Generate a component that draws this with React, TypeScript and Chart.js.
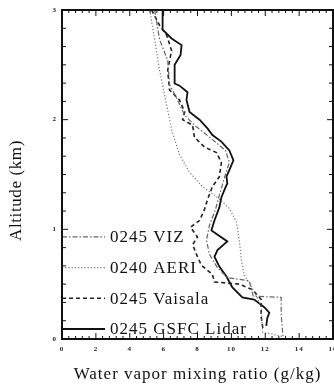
import React, { useEffect, useRef } from "react";
import { Chart, registerables } from "chart.js";

Chart.register(...registerables);

const seriesLabels = ["0245 VIZ", "0240 AERI", "0245 Vaisala", "0245 GSFC Lidar"];

const vizRatio = [5.47, 5.76, 6.24, 6.35, 6.82, 7.24, 7.82, 8.71, 9.65, 9.88, 9.59, 9.29, 9.06, 8.71, 8.53, 8.71, 9.18, 9.76, 11.06, 11.29, 12.94, 12.94, 13.06];
const vizAlt = [3.0, 2.73, 2.54, 2.32, 2.18, 2.04, 1.95, 1.84, 1.72, 1.61, 1.47, 1.31, 1.18, 1.04, 0.9, 0.77, 0.65, 0.56, 0.53, 0.39, 0.38, 0.22, 0.0];

const aeriRatio = [5.18, 5.47, 5.76, 6.12, 6.47, 6.94, 7.53, 8.29, 9.18, 9.88, 10.29, 10.47, 10.59, 10.76, 11.06, 11.35, 11.76, 11.8, 11.85, 12.3, 13.06];
const aeriAlt = [3.0, 2.73, 2.45, 2.18, 1.91, 1.68, 1.52, 1.39, 1.29, 1.19, 1.07, 0.9, 0.72, 0.58, 0.51, 0.43, 0.3, 0.17, 0.06, 0.05, 0.02];

const vaisalaRatio = [5.29, 5.76, 6.18, 6.47, 6.24, 6.35, 6.94, 7.24, 7.12, 7.71, 7.82, 8.41, 9.12, 9.41, 9.29, 8.88, 8.59, 8.41, 8.12, 7.59, 8.0, 7.71, 8.0, 8.24, 8.88, 9.0, 10.47, 11.24, 11.76, 11.76, 11.88];
const vaisalaAlt = [3.0, 2.86, 2.77, 2.63, 2.45, 2.27, 2.18, 2.07, 2.0, 1.95, 1.84, 1.75, 1.7, 1.61, 1.48, 1.39, 1.27, 1.18, 1.08, 1.02, 0.93, 0.86, 0.75, 0.67, 0.59, 0.52, 0.5, 0.45, 0.36, 0.2, 0.08];

const lidarRatio = [5.94, 5.94, 6.47, 7.06, 7.0, 6.65, 6.65, 6.94, 7.41, 7.35, 7.53, 8.12, 8.59, 8.88, 9.41, 9.88, 10.12, 9.88, 9.71, 9.76, 9.59, 9.41, 9.29, 9.0, 8.82, 9.76, 9.18, 9.0, 9.29, 9.71, 10.06, 10.65, 11.35, 11.94, 12.24, 12.12, 12.06];
const lidarAlt = [3.0, 2.82, 2.74, 2.68, 2.59, 2.5, 2.33, 2.31, 2.25, 2.18, 2.07, 2.0, 1.92, 1.86, 1.8, 1.72, 1.63, 1.54, 1.48, 1.42, 1.36, 1.29, 1.2, 1.08, 0.99, 0.89, 0.81, 0.75, 0.66, 0.57, 0.47, 0.38, 0.36, 0.29, 0.24, 0.19, 0.12];

const xTickValues = [0, 2, 4, 6, 8, 10, 12, 14, 16];
const yTickValues = [0, 1, 2, 3];
const xTitle = "Water vapor mixing ratio (g/kg)";
const yTitle = "Altitude (km)";

const SERIF = "'Liberation Serif', 'DejaVu Serif', serif";

function pts(xs: number[], ys: number[]) {
  return xs.map((v, i) => ({ x: v, y: ys[i] }));
}

const spacingPlugin = {
  id: "letterSpacing",
  beforeDraw(chart: any) {
    chart.ctx.letterSpacing = "1px";
  },
};

const frameTicksPlugin = {
  id: "frameTicks",
  afterDraw(chart: any) {
    const { ctx, chartArea, scales } = chart;
    const { left, right, top, bottom } = chartArea;
    const xs = scales.x;
    const ys = scales.y;
    ctx.save();
    ctx.strokeStyle = "#111";
    ctx.lineWidth = 2;
    ctx.strokeRect(left, top, right - left, bottom - top);
    ctx.lineWidth = 1;
    ctx.beginPath();
    const xMax = xTickValues[xTickValues.length - 1];
    const xStep = xTickValues[1] - xTickValues[0];
    const xMinorPer = 5;
    const nx = Math.round((xMax / xStep) * xMinorPer);
    for (let i = 0; i <= nx; i++) {
      const v = (i * xStep) / xMinorPer;
      const px = xs.getPixelForValue(v);
      const len = i % xMinorPer === 0 ? 6 : 3;
      ctx.moveTo(px, bottom);
      ctx.lineTo(px, bottom - len);
      ctx.moveTo(px, top);
      ctx.lineTo(px, top + len);
    }
    const yMax = yTickValues[yTickValues.length - 1];
    const yMinorPer = 6;
    const ny = yMax * yMinorPer;
    for (let i = 0; i <= ny; i++) {
      const v = i / yMinorPer;
      const py = ys.getPixelForValue(v);
      const len = i % yMinorPer === 0 ? 6 : 4;
      ctx.moveTo(left, py);
      ctx.lineTo(left + len, py);
      ctx.moveTo(right, py);
      ctx.lineTo(right - len, py);
    }
    ctx.stroke();

    ctx.save();
    ctx.translate(17, (top + bottom) / 2 + 16);
    ctx.rotate(-Math.PI / 2);
    ctx.letterSpacing = "0.6px";
    ctx.font = `17px ${SERIF}`;
    ctx.fillStyle = "#111";
    ctx.textAlign = "center";
    ctx.textBaseline = "middle";
    ctx.fillText(yTitle, 0, 0);
    ctx.restore();
    ctx.restore();
  },
};

const legendPlugin = {
  id: "inlineLegend",
  afterDatasetsDraw(chart: any) {
    const { ctx, chartArea } = chart;
    const { left, bottom } = chartArea;
    const n = chart.data.datasets.length;
    ctx.save();
    chart.data.datasets.forEach((ds: any, i: number) => {
      const y = bottom - 10 - (n - 1 - i) * 30.7;
      ctx.strokeStyle = ds.borderColor;
      ctx.lineWidth = ds.borderWidth;
      ctx.setLineDash(ds.borderDash || []);
      ctx.beginPath();
      ctx.moveTo(left, y);
      ctx.lineTo(left + 43, y);
      ctx.stroke();
      ctx.setLineDash([]);
      ctx.letterSpacing = "1px";
      ctx.font = `17px ${SERIF}`;
      ctx.fillStyle = "#111";
      ctx.textAlign = "left";
      ctx.textBaseline = "middle";
      ctx.fillText(ds.label, left + 48, y + 1);
    });
    ctx.restore();
  },
};

export default function App() {
  const ref = useRef<HTMLCanvasElement | null>(null);
  useEffect(() => {
    document.body.style.margin = "0";
    const canvas = ref.current;
    if (!canvas) return;
    const chart = new Chart(canvas, {
      type: "scatter",
      data: {
        datasets: [
          {
            label: seriesLabels[0],
            data: pts(vizRatio, vizAlt),
            showLine: true,
            borderColor: "#666",
            borderWidth: 1.2,
            borderDash: [5, 2, 1.5, 2],
            pointRadius: 0,
          },
          {
            label: seriesLabels[1],
            data: pts(aeriRatio, aeriAlt),
            showLine: true,
            borderColor: "#777",
            borderWidth: 1.2,
            borderDash: [1.2, 2],
            pointRadius: 0,
          },
          {
            label: seriesLabels[2],
            data: pts(vaisalaRatio, vaisalaAlt),
            showLine: true,
            borderColor: "#222",
            borderWidth: 1.6,
            borderDash: [4, 3],
            pointRadius: 0,
          },
          {
            label: seriesLabels[3],
            data: pts(lidarRatio, lidarAlt),
            showLine: true,
            borderColor: "#111",
            borderWidth: 1.8,
            pointRadius: 0,
          },
        ],
      },
      options: {
        responsive: false,
        animation: false,
        events: [],
        layout: { padding: { left: 0, right: 1, top: 10, bottom: 0 } },
        plugins: {
          legend: { display: false },
          tooltip: { enabled: false },
        },
        scales: {
          x: {
            type: "linear",
            min: 0,
            max: 16,
            grid: { display: false, drawTicks: false, tickLength: 0 },
            border: { display: false },
            ticks: {
              stepSize: 2,
              autoSkip: false,
              maxRotation: 0,
              padding: 6,
              color: "#222",
              font: { family: SERIF, size: 7, weight: "bold" },
              callback: (v: any) => (xTickValues.includes(Number(v)) ? String(v) : ""),
            },
            title: {
              display: true,
              text: xTitle,
              color: "#111",
              font: { family: SERIF, size: 17 },
              padding: { top: 0, bottom: 0 },
            },
            afterFit: (s: any) => {
              s.height = 46;
              s.paddingLeft = 0;
              s.paddingRight = 0;
            },
          },
          y: {
            type: "linear",
            min: 0,
            max: 3,
            grid: { display: false, drawTicks: false, tickLength: 0 },
            border: { display: false },
            ticks: {
              stepSize: 1,
              autoSkip: false,
              padding: 5,
              color: "#222",
              font: { family: SERIF, size: 7, weight: "bold" },
              callback: (v: any) => (yTickValues.includes(Number(v)) ? String(v) : ""),
            },
            afterFit: (s: any) => {
              s.width = 62;
              s.paddingTop = 0;
              s.paddingBottom = 0;
            },
          },
        },
      },
      plugins: [spacingPlugin, frameTicksPlugin, legendPlugin],
    });
    return () => chart.destroy();
  }, []);
  return (
    <div style={{ width: 334, height: 385, background: "#fff" }}>
      <canvas ref={ref} width={334} height={385} style={{ display: "block" }} />
    </div>
  );
}
